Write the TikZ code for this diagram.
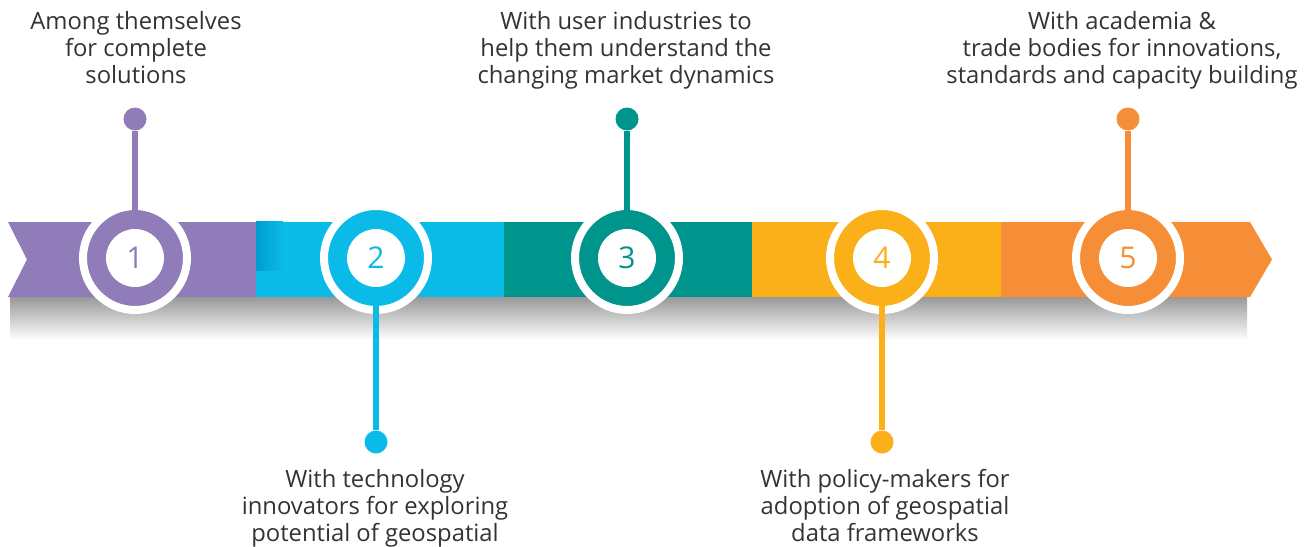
\documentclass[tikz,border=0pt]{standalone}
\usepackage{fontspec}
\setmainfont{Open Sans}
\definecolor{tlpurple}{HTML}{8F7CB8}
\definecolor{tlblue}{HTML}{0ABBE7}
\definecolor{tldarkblue}{HTML}{009DCF}
\definecolor{tlteal}{HTML}{00958C}
\definecolor{tlyellow}{HTML}{FBB01A}
\definecolor{tlorange}{HTML}{F68E37}
\definecolor{tltext}{HTML}{333333}
\begin{document}
\begin{tikzpicture}[x=1pt,y=-1pt,line join=round,
	ring/.style={circle,fill=#1,draw=white,line width=8pt,minimum size=104pt,inner sep=0pt},
	hub/.style={circle,fill=white,text=#1,minimum size=58pt,inner sep=0pt,font=\fontsize{30}{30}\selectfont},
	dot/.style={circle,fill=#1,minimum size=23pt,inner sep=0pt},
	stem/.style={draw=#1,line width=6pt},
	label/.style={align=center,text=tltext,inner sep=0pt,anchor=north,font=\fontsize{23.8}{27}\selectfont}]
	\useasboundingbox (0,0) rectangle (1311,546);
	% shadow under the band
	\shade[top color=black!40,bottom color=white] (10,297) rectangle (1247,340);
	% the band
	\fill[tlpurple] (8,222) -- (257,222) -- (257,297) -- (8,297) -- (27,259.5) -- cycle;
	\fill[tlblue] (256,222) rectangle (505,297);
	\shade[left color=tldarkblue,right color=tlblue] (256,221) rectangle (283,270);
	\fill[tlteal] (504,222) rectangle (753,297);
	\fill[tlyellow] (752,222) rectangle (1002,297);
	\fill[tlorange] (1001,222) -- (1250,222) -- (1272,259.5) -- (1250,297) -- (1001,297) -- cycle;
	% step 1
	\node[ring=tlpurple] (r1) at (135,258) {};
	\node[dot=tlpurple] (d1) at (135,119) {};
	\draw[stem=tlpurple] (d1) -- (r1.center);
	\node[hub=tlpurple] (h1) at (r1) {1};
	\node[label] (t1) at (136,11) {Among themselves\\for complete\\solutions};
	% step 2
	\node[ring=tlblue] (r2) at (376,258) {};
	\node[dot=tlblue] (d2) at (376,442) {};
	\draw[stem=tlblue] (d2) -- (r2.center);
	\node[hub=tlblue] (h2) at (r2) {2};
	\node[label] (t2) at (375,469) {With technology\\innovators for exploring\\potential of geospatial};
	% step 3
	\node[ring=tlteal] (r3) at (627,258) {};
	\node[dot=tlteal] (d3) at (627,119) {};
	\draw[stem=tlteal] (d3) -- (r3.center);
	\node[hub=tlteal] (h3) at (r3) {3};
	\node[label] (t3) at (626,11) {With user industries to\\help them understand the\\changing market dynamics};
	% step 4
	\node[ring=tlyellow] (r4) at (882,258) {};
	\node[dot=tlyellow] (d4) at (882,442) {};
	\draw[stem=tlyellow] (d4) -- (r4.center);
	\node[hub=tlyellow] (h4) at (r4) {4};
	\node[label] (t4) at (885,469) {With policy-makers for\\adoption of geospatial\\data frameworks};
	% step 5
	\node[ring=tlorange] (r5) at (1128,258) {};
	\node[dot=tlorange] (d5) at (1128,119) {};
	\draw[stem=tlorange] (d5) -- (r5.center);
	\node[hub=tlorange] (h5) at (r5) {5};
	\node[label] (t5) at (1122,11) {With academia \&\\trade bodies for innovations,\\standards and capacity building};
\end{tikzpicture}
\end{document}
